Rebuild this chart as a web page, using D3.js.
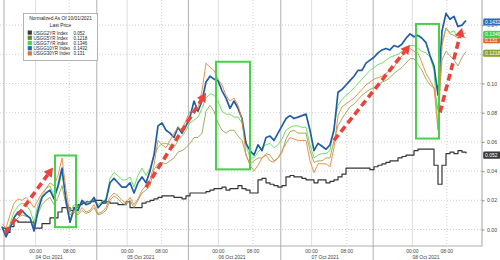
<!DOCTYPE html>
<html><head><meta charset="utf-8">
<script src="https://cdn.jsdelivr.net/npm/d3@7"></script>
<style>html,body{margin:0;padding:0;background:#fff;overflow:hidden}svg{display:block}text{font-family:"Liberation Sans",Arial,sans-serif}</style>
</head><body><svg id="c" width="500" height="260"></svg>
<script>
// sample index = trading hour since start (04 Oct session)
const sampleHour = d3.range(117);

const usgg2 = [0.001,-0.002,0.002,0.006,0.005,0.005,0.005,0.005,0.001,0.001,
0.004,0.004,0.008,0.008,0.012,0.015,0.015,0.013,0.015,0.017,
0.018,0.019,0.019,0.020,0.020,0.018,0.019,0.018,0.018,0.017,
0.017,0.019,0.015,0.015,0.015,0.018,0.019,0.020,0.021,0.022,
0.023,0.023,0.023,0.022,0.022,0.021,0.023,0.025,0.025,0.025,
0.025,0.026,0.027,0.028,0.028,0.029,0.027,0.028,0.028,0.030,
0.028,0.027,0.025,0.025,0.034,0.035,0.032,0.031,0.030,0.029,
0.030,0.036,0.037,0.036,0.036,0.035,0.034,0.034,0.032,0.034,
0.034,0.032,0.033,0.034,0.036,0.038,0.042,0.042,0.042,0.042,
0.042,0.042,0.041,0.043,0.044,0.045,0.046,0.047,0.047,0.049,
0.050,0.051,0.051,0.054,0.055,0.055,0.055,0.055,0.044,0.031,
0.044,0.052,0.053,0.052,0.054,0.053,0.052];

const usgg5 = [0.001,-0.003,0.001,0.005,0.008,0.010,0.009,0.008,0.003,0.011,
0.017,0.020,0.022,0.017,0.022,0.030,0.017,0.005,0.012,0.010,
0.013,0.011,0.012,0.015,0.010,0.011,0.013,0.020,0.023,0.021,
0.018,0.017,0.020,0.015,0.020,0.025,0.027,0.030,0.041,0.045,
0.046,0.045,0.047,0.049,0.053,0.054,0.056,0.059,0.063,0.063,
0.066,0.081,0.085,0.081,0.073,0.068,0.066,0.068,0.068,0.064,
0.061,0.051,0.045,0.047,0.049,0.049,0.052,0.051,0.047,0.049,
0.053,0.062,0.067,0.068,0.066,0.066,0.066,0.054,0.046,0.047,
0.047,0.049,0.049,0.061,0.071,0.076,0.080,0.084,0.086,0.089,
0.092,0.094,0.096,0.097,0.099,0.101,0.102,0.104,0.107,0.109,
0.111,0.114,0.117,0.117,0.113,0.109,0.103,0.099,0.097,0.082,
0.116,0.122,0.119,0.116,0.112,0.118,0.1218];

const usgg7 = [0.002,-0.003,0.004,0.012,0.016,0.018,0.017,0.013,0.005,0.017,
0.023,0.028,0.030,0.023,0.028,0.039,0.021,0.012,0.017,0.015,
0.020,0.018,0.019,0.022,0.017,0.019,0.021,0.035,0.039,0.037,
0.034,0.034,0.036,0.029,0.037,0.042,0.037,0.042,0.051,0.056,
0.059,0.059,0.058,0.056,0.061,0.064,0.068,0.073,0.075,0.077,
0.083,0.090,0.093,0.092,0.088,0.081,0.079,0.079,0.077,0.077,
0.073,0.058,0.049,0.049,0.053,0.056,0.058,0.059,0.056,0.058,
0.062,0.068,0.070,0.071,0.071,0.070,0.070,0.058,0.049,0.051,
0.052,0.052,0.054,0.071,0.085,0.089,0.092,0.094,0.097,0.100,
0.103,0.106,0.109,0.111,0.113,0.114,0.116,0.118,0.119,0.120,
0.122,0.124,0.126,0.126,0.124,0.122,0.121,0.118,0.109,0.070,
0.129,0.138,0.135,0.136,0.131,0.134,0.1346];

const usgg10 = [0.002,-0.005,0.001,0.008,0.012,0.013,0.010,0.008,-0.001,0.013,
0.022,0.025,0.027,0.021,0.030,0.042,0.020,0.005,0.015,0.013,
0.020,0.017,0.018,0.022,0.015,0.018,0.020,0.032,0.035,0.032,
0.029,0.029,0.032,0.025,0.032,0.036,0.032,0.040,0.051,0.071,
0.073,0.068,0.066,0.063,0.070,0.066,0.071,0.077,0.088,0.081,
0.088,0.101,0.105,0.103,0.102,0.095,0.090,0.083,0.088,0.083,
0.076,0.059,0.054,0.051,0.058,0.054,0.063,0.064,0.061,0.066,
0.071,0.076,0.078,0.076,0.077,0.078,0.079,0.068,0.054,0.059,
0.057,0.055,0.058,0.068,0.094,0.096,0.099,0.102,0.105,0.109,
0.109,0.114,0.116,0.118,0.121,0.123,0.124,0.123,0.126,0.125,
0.127,0.131,0.134,0.132,0.133,0.131,0.128,0.119,0.112,0.092,
0.136,0.148,0.144,0.146,0.139,0.140,0.1432];

const usgg30 = [0.004,0.001,0.010,0.018,0.021,0.020,0.022,0.019,0.015,0.020,
0.025,0.028,0.032,0.030,0.037,0.049,0.027,0.010,0.013,0.011,
0.015,0.012,0.013,0.017,0.011,0.012,0.015,0.022,0.025,0.023,
0.020,0.018,0.022,0.017,0.021,0.027,0.030,0.034,0.044,0.061,
0.058,0.056,0.061,0.066,0.070,0.068,0.075,0.081,0.080,0.083,
0.095,0.114,0.111,0.109,0.103,0.099,0.092,0.088,0.090,0.085,
0.075,0.051,0.044,0.040,0.044,0.049,0.051,0.047,0.046,0.049,
0.054,0.059,0.063,0.062,0.061,0.061,0.061,0.047,0.039,0.045,
0.045,0.045,0.043,0.056,0.078,0.084,0.086,0.088,0.090,0.093,
0.096,0.099,0.101,0.103,0.104,0.105,0.107,0.109,0.111,0.116,
0.119,0.122,0.124,0.122,0.121,0.114,0.107,0.102,0.097,0.068,
0.126,0.138,0.134,0.133,0.131,0.133,0.131];

const seriesNames = ["USGG2YR Index","USGG5YR Index","USGG7YR Index","USGG10YR Index","USGG30YR Index"];
const lastPrices = ["0.052","0.1218","0.1346","0.1432","0.131"];
const seriesValues = [usgg2, usgg5, usgg7, usgg10, usgg30];

const yTicks = [0,0.02,0.04,0.06,0.08,0.10,0.12,0.14];
const sessionBreaks = [0.5,23.7,46.6,69.7,92.8];
const midnightTicks = [8.4,31.3,54.1,77.4,102.6];
const morningTicks = [16.8,39.9,62.75,86.2,111.2];
const midnightLabel = "00:00", morningLabel = "08:00";
const dateLabels = ["04 Oct 2021","05 Oct 2021","06 Oct 2021","07 Oct 2021","08 Oct 2021"];

// annotations in data units
const boxHours = [[13.25,18.5],[53.5,62],[103.5,109.25]];
const boxValues = [[0.0016,0.0507],[0.0412,0.1149],[0.0623,0.1408]];
const arrowStarts = [[0.75,-0.0025],[36,0.0289],[83,0.061],[109.5,0.0801]];
const arrowEnds = [[12.75,0.0425],[51,0.0937],[102,0.1265],[115,0.1381]];

// ---------------- drawing ----------------
const lineColors = ["#333333","#9c9f4e","#62dd55","#1f5ea6","#e8873e"];
const lineWidths = [1.2,0.9,0.9,1.7,0.9];
const swatchColors = ["#3a3a3a","#5d8a28","#3fdc3f","#2a6ab0","#e07030"];
const tagColors = ["#3a3a3a","#87a526","#3fcf3f","#2f6db5","#e0672a"];

const W = 482, H = 246;
const svg = d3.select("#c");
const x = d3.scaleLinear().domain([-0.5,120]).range([0,W]);
const y = d3.scaleLinear().domain([-0.0113,0.1572]).range([H,0]);

svg.append("rect").attr("width",500).attr("height",260).attr("fill","#fff");
svg.append("defs").append("clipPath").attr("id","clip").append("rect").attr("width",W).attr("height",H);

const grid = svg.append("g");
grid.selectAll(".hg").data(yTicks).join("line")
  .attr("x1",0).attr("x2",W).attr("y1",d=>y(d)).attr("y2",d=>y(d))
  .attr("stroke","#c4c4c4").attr("stroke-width",0.8).attr("stroke-dasharray","1,2");
grid.selectAll(".mg").data(midnightTicks).join("line")
  .attr("x1",d=>x(d)).attr("x2",d=>x(d)).attr("y1",0).attr("y2",H)
  .attr("stroke","#d6d6d6").attr("stroke-width",0.8);
grid.selectAll(".eg").data(morningTicks).join("line")
  .attr("x1",d=>x(d)).attr("x2",d=>x(d)).attr("y1",0).attr("y2",H)
  .attr("stroke","#c4c4c4").attr("stroke-width",0.8).attr("stroke-dasharray","1,2");
grid.selectAll(".sg").data(sessionBreaks).join("line")
  .attr("x1",d=>x(d)).attr("x2",d=>x(d)).attr("y1",0).attr("y2",260)
  .attr("stroke","#a8a8a8").attr("stroke-width",0.9);

// bottom axis line & labels
svg.append("line").attr("x1",0).attr("x2",W).attr("y1",H).attr("y2",H).attr("stroke","#9a9a9a").attr("stroke-width",0.8);
const allHourTicks = midnightTicks.map(d=>[d,midnightLabel]).concat(morningTicks.map(d=>[d,morningLabel]));
svg.selectAll(".xt").data(allHourTicks).join("text")
  .attr("x",d=>x(d[0])).attr("y",253.3).attr("text-anchor","middle")
  .attr("font-size",5).attr("fill","#444").text(d=>d[1]);
svg.selectAll(".dt").data(dateLabels).join("text")
  .attr("x",(d,i)=>x(midnightTicks[i])).attr("y",259.3)
  .attr("font-size",5).attr("fill","#444").text(d=>d);

// right axis
const ax = svg.append("g").attr("transform",`translate(${W},0)`)
  .call(d3.axisRight(y).tickValues(yTicks).tickFormat(d3.format(".2f")).tickSize(2.5).tickPadding(2.5));
ax.select(".domain").attr("stroke","#8a8a8a").attr("stroke-width",0.8).attr("d",`M0,0V${H}`);
ax.selectAll(".tick line").attr("stroke","#8a8a8a");
ax.selectAll(".tick text").attr("font-size",5.2).attr("fill","#444").attr("font-family",'"Liberation Sans",Arial,sans-serif');

// lines
const plot = svg.append("g").attr("clip-path","url(#clip)");
[0,1,2,3,4].forEach(k=>{
  const gen = d3.line().x((d,i)=>x(sampleHour[i])).y(d=>y(d))
    .curve(k===0 ? d3.curveStepAfter : d3.curveLinear);
  plot.append("path").datum(seriesValues[k]).attr("d",gen)
    .attr("fill","none").attr("stroke",lineColors[k]).attr("stroke-width",lineWidths[k])
    .attr("stroke-linejoin","round");
});

// green boxes
svg.selectAll(".box").data(boxHours).join("rect")
  .attr("x",d=>x(d[0])).attr("width",d=>x(d[1])-x(d[0]))
  .attr("y",(d,i)=>y(boxValues[i][1])).attr("height",(d,i)=>y(boxValues[i][0])-y(boxValues[i][1]))
  .attr("fill","none").attr("stroke","#49cf49").attr("stroke-width",2);

// red dashed arrows
arrowStarts.forEach((s,i)=>{
  const e = arrowEnds[i];
  const x1=x(s[0]), y1=y(s[1]), x2=x(e[0]), y2=y(e[1]);
  const len=Math.hypot(x2-x1,y2-y1), ux=(x2-x1)/len, uy=(y2-y1)/len;
  const hl=9, hw=5;
  const bx=x2-ux*hl, by=y2-uy*hl;
  svg.append("line").attr("x1",x1).attr("y1",y1).attr("x2",bx).attr("y2",by)
    .attr("stroke","#e8433c").attr("stroke-width",3.6).attr("stroke-dasharray","7,4");
  svg.append("path").attr("d",`M${x2},${y2}L${bx-uy*hw},${by+ux*hw}L${bx+uy*hw},${by-ux*hw}Z`)
    .attr("fill","#e8433c");
});

// right-hand last value tags
[0,1,4,2,3].forEach(k=>{
  const v = seriesValues[k][seriesValues[k].length-1];
  const cy = y(v)+1.5;
  svg.append("rect").attr("x",483).attr("y",cy-3.8).attr("width",22).attr("height",7.6).attr("rx",1.5)
    .attr("fill",tagColors[k]).attr("stroke","#fff").attr("stroke-width",0.4);
  svg.append("text").attr("x",485).attr("y",cy+1.8).attr("font-size",5).attr("fill","#fff").text(lastPrices[k]);
});

// legend
const lg = svg.append("g").attr("transform","translate(23,13)");
lg.append("rect").attr("x",0.5).attr("y",0.5).attr("width",74).attr("height",47)
  .attr("fill","#fff").attr("stroke","#a0a0a0").attr("stroke-width",0.8);
lg.append("text").attr("x",37.5).attr("y",6.5).attr("text-anchor","middle").attr("font-size",4.8).attr("fill","#222").text("Normalized As Of 10/01/2021");
lg.append("text").attr("x",37.5).attr("y",13.5).attr("text-anchor","middle").attr("font-size",4.8).attr("fill","#222").text("Last Price");
seriesNames.forEach((n,i)=>{
  const yy = 21.5 + i*5.2;
  lg.append("rect").attr("x",4.7).attr("y",yy-4).attr("width",4.2).attr("height",4.2).attr("fill",swatchColors[i]);
  lg.append("text").attr("x",10.5).attr("y",yy).attr("font-size",4.5).attr("fill","#222").text(n);
  lg.append("text").attr("x",50.5).attr("y",yy).attr("font-size",4.5).attr("fill","#222").text(lastPrices[i]);
});
</script></body></html>
